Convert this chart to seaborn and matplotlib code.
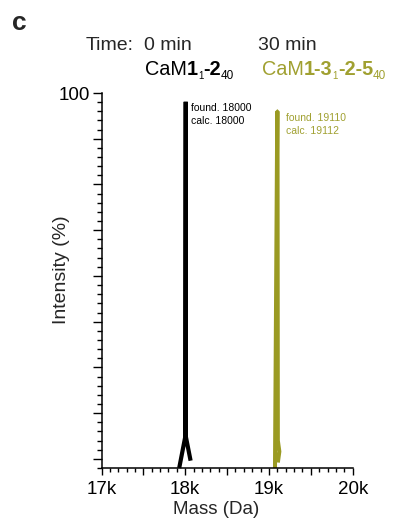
import matplotlib
matplotlib.use("Agg")
import matplotlib.pyplot as plt
from matplotlib.transforms import IdentityTransform
from matplotlib.ticker import MultipleLocator
import seaborn as sns
import pandas as pd

# ---------------- data ----------------
black_mass = [17928, 18000, 18006, 18008, 18064]
black_int = [-2.5, 6, 97.6, 6, -0.5]
olive_mass = [19072, 19099, 19102, 19106, 19124, 19106]
olive_int = [-2.5, 95.0, 95.0, 5, 2, -1]
x_ticks = [17000, 17500, 18000, 18500, 19000, 19500, 20000]
x_tick_labels = ["17k", "", "18k", "", "19k", "", "20k"]
y_ticks = [0, 12.5, 25, 37.5, 50, 62.5, 75, 87.5, 100]
y_tick_labels = ["", "", "", "", "", "", "", "", "100"]
ann_black = ["found. 18000", "calc. 18000"]
ann_olive = ["found. 19110", "calc. 19112"]

BLACK = "#000000"
OLIVE = "#9a9a22"
OLIVE_TXT = "#a0a030"

W, H = 393, 523
sns.set_style("ticks")
plt.rcParams["font.family"] = ["Liberation Sans", "DejaVu Sans"]

fig = plt.figure(figsize=(W / 100, H / 100), dpi=100)
ax_l, ax_r, ax_t, ax_b = 101.5, 352.7, 93, 468
ax = fig.add_axes([ax_l / W, 1 - ax_b / H, (ax_r - ax_l) / W, (ax_b - ax_t) / H])

df_b = pd.DataFrame({"mass": black_mass, "inten": black_int})
df_o = pd.DataFrame({"mass": olive_mass, "inten": olive_int})
sns.lineplot(data=df_b, x="mass", y="inten", sort=False, estimator=None, color=BLACK,
             lw=3.0, ax=ax, solid_joinstyle="bevel", solid_capstyle="butt", clip_on=False)
sns.lineplot(data=df_o, x="mass", y="inten", sort=False, estimator=None, color=OLIVE,
             lw=2.9, ax=ax, solid_joinstyle="bevel", solid_capstyle="butt", clip_on=False)

ax.set_xlim(17000, 20000)
ax.set_ylim(-2.5, 100)
sns.despine(ax=ax)
for s in ("left", "bottom"):
    ax.spines[s].set_linewidth(1.1)
    ax.spines[s].set_color("black")

ax.set_xticks(x_ticks)
ax.set_xticklabels(x_tick_labels, fontsize=13.5)
ax.xaxis.set_minor_locator(MultipleLocator(100))
ax.set_yticks(y_ticks)
ax.set_yticklabels(y_tick_labels, fontsize=13.5)
ax.yaxis.set_minor_locator(MultipleLocator(2.5))
ax.tick_params(axis="x", which="major", length=4.8, width=1, pad=4.5, colors="black")
ax.tick_params(axis="x", which="minor", length=2.9, width=1, colors="black")
ax.tick_params(axis="y", which="major", length=6.5, width=1, pad=1.5, colors="black")
ax.tick_params(axis="y", which="minor", length=3.6, width=1, colors="black")
ax.set_xlabel("")
ax.set_ylabel("")

tr = IdentityTransform()

def px(x, y):
    return x, H - y

fig.text(*px(216, 510), "Mass (Da)", fontsize=13.5, ha="center", va="center", transform=tr)
fig.text(*px(62, 270), "Intensity (%)", fontsize=14, ha="center", va="center", rotation=90,
         transform=tr)
fig.text(*px(12, 30), "c", fontsize=19, fontweight="bold", ha="left", va="baseline", transform=tr)

fig.text(*px(86, 50), "Time:", fontsize=14, ha="left", va="baseline", transform=tr)
fig.text(*px(144, 50), "0 min", fontsize=14, ha="left", va="baseline", transform=tr)
fig.text(*px(258, 50), "30 min", fontsize=14, ha="left", va="baseline", transform=tr)

renderer = fig.canvas.get_renderer()

def rich(x, y, parts, color):
    for s, size, weight, dy in parts:
        t = fig.text(*px(x, y + dy), s, fontsize=size, fontweight=weight, color=color,
                     ha="left", va="baseline", transform=tr)
        bb = t.get_window_extent(renderer=renderer)
        x = bb.x1

rich(145, 75, [("CaM", 14.3, "normal", 0), ("1", 14.3, "bold", 0), ("1", 7, "normal", 4),
               ("-2", 14.3, "bold", 0), ("40", 8.5, "normal", 4)], BLACK)
rich(262, 75, [("CaM", 14.3, "normal", 0), ("1-3", 14.3, "bold", 0), ("1", 7, "normal", 4),
               ("-2-5", 14.3, "bold", 0), ("40", 8.5, "normal", 4)], OLIVE_TXT)

fig.text(*px(191, 111), ann_black[0], fontsize=7.5, color=BLACK, ha="left", va="baseline", transform=tr)
fig.text(*px(191, 124), ann_black[1], fontsize=7.5, color=BLACK, ha="left", va="baseline", transform=tr)
fig.text(*px(286, 121), ann_olive[0], fontsize=7.5, color=OLIVE_TXT, ha="left", va="baseline", transform=tr)
fig.text(*px(286, 134), ann_olive[1], fontsize=7.5, color=OLIVE_TXT, ha="left", va="baseline", transform=tr)

fig.savefig("out.png", dpi=100)
